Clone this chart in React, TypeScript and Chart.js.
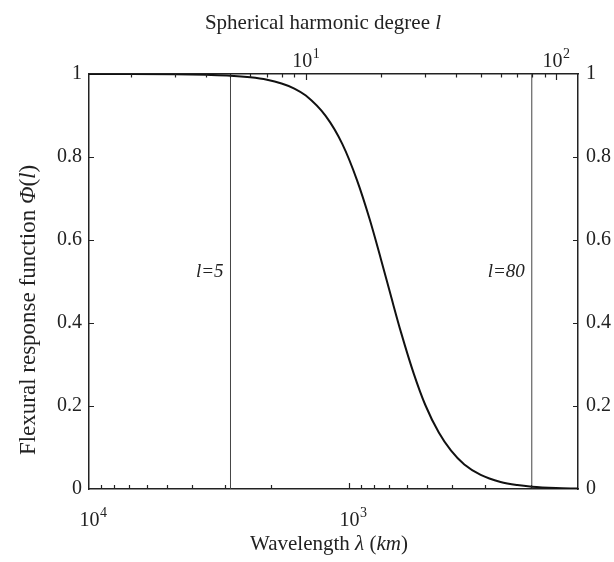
import React, { useEffect, useRef } from "react";
import { Chart, registerables } from "chart.js";

Chart.register(...registerables);

// Spherical harmonic degree l (top axis) and flexural response Φ(l)
const degrees = [1.36, 2, 3, 4, 5, 6, 7, 8, 9, 10, 12, 14, 16, 18, 20, 22, 24, 27, 30, 34, 38, 43, 50, 60, 70, 80, 100, 122.4];
const phi = [1.0, 1.0, 0.9995, 0.998, 0.996, 0.992, 0.986, 0.977, 0.965, 0.948, 0.899, 0.831, 0.745, 0.65, 0.552, 0.46, 0.378, 0.278, 0.203, 0.136, 0.093, 0.059, 0.034, 0.017, 0.0094, 0.0056, 0.0024, 0.0011];

// vertical marker lines at degrees
const markerDegrees = [5, 80];
const markerLabels = ["l=5", "l=80"];

// axis ranges
const degreeRange = [1.36, 122.4];
const wavelengthRange = [131.5, 10000];

// labelled ticks
const degreeTickLabels = [10, 100];
const wavelengthTickLabels = [1000, 10000];
const phiTicks = [0, 0.2, 0.4, 0.6, 0.8, 1];

const FONT = "'Liberation Serif', 'Times New Roman', serif";
const INK = "#222";

type Seg = [string, boolean];

function drawSegs(ctx: CanvasRenderingContext2D, segs: Seg[], size: number, cx: number, y: number) {
  let total = 0;
  for (const [t, it] of segs) {
    ctx.font = `${it ? "italic " : ""}${size}px ${FONT}`;
    total += ctx.measureText(t).width;
  }
  let x = cx - total / 2;
  for (const [t, it] of segs) {
    ctx.font = `${it ? "italic " : ""}${size}px ${FONT}`;
    ctx.fillText(t, x, y);
    x += ctx.measureText(t).width;
  }
}

function logTicks(min: number, max: number) {
  const out: { v: number; major: boolean }[] = [];
  for (let e = Math.floor(Math.log10(min)); e <= Math.ceil(Math.log10(max)); e++) {
    for (let m = 1; m <= 9; m++) {
      const v = m * Math.pow(10, e);
      if (v >= min * 1.0001 && v <= max / 1.0001) out.push({ v, major: m === 1 });
    }
  }
  return out;
}

const decoPlugin = {
  id: "deco",
  afterDraw(chart: any) {
    const ctx: CanvasRenderingContext2D = chart.ctx;
    const { left, right, top, bottom } = chart.chartArea;
    const sx = chart.scales.x;
    const sx2 = chart.scales.x2;
    const sy = chart.scales.y;
    ctx.save();
    ctx.strokeStyle = INK;
    ctx.lineWidth = 1.2;
    // top ticks (degree)
    for (const t of logTicks(degreeRange[0], degreeRange[1])) {
      const px = Math.round(sx2.getPixelForValue(t.v)) + 0.5;
      const len = t.major ? 6 : 3.5;
      ctx.beginPath();
      ctx.moveTo(px, top);
      ctx.lineTo(px, top + len);
      ctx.stroke();
    }
    // bottom ticks (wavelength)
    for (const t of logTicks(wavelengthRange[0], wavelengthRange[1])) {
      const px = Math.round(sx.getPixelForValue(t.v)) + 0.5;
      const len = t.major ? 6 : 4;
      ctx.beginPath();
      ctx.moveTo(px, bottom);
      ctx.lineTo(px, bottom - len);
      ctx.stroke();
    }
    // y ticks both sides
    for (const v of phiTicks) {
      if (v === 0 || v === 1) continue;
      const py = Math.round(sy.getPixelForValue(v)) + 0.5;
      ctx.beginPath();
      ctx.moveTo(left, py);
      ctx.lineTo(left + 5, py);
      ctx.moveTo(right, py);
      ctx.lineTo(right - 5, py);
      ctx.stroke();
    }

    ctx.fillStyle = INK;
    ctx.textBaseline = "alphabetic";
    ctx.textAlign = "left";
    const drawPow = (px: number, base: number, value: number) => {
      const exp = String(Math.round(Math.log10(value)));
      ctx.font = `20px ${FONT}`;
      const w1 = ctx.measureText("10").width;
      ctx.font = `14px ${FONT}`;
      const w2 = ctx.measureText(exp).width;
      const x0 = px - (w1 + w2) / 2;
      ctx.font = `20px ${FONT}`;
      ctx.fillText("10", x0, base);
      ctx.font = `14px ${FONT}`;
      ctx.fillText(exp, x0 + w1 + 0.5, base - 9);
    };
    for (const v of degreeTickLabels) drawPow(sx2.getPixelForValue(v), 67, v);
    for (const v of wavelengthTickLabels) drawPow(sx.getPixelForValue(v) + 4, 526, v);

    // axis titles
    drawSegs(ctx, [["Spherical harmonic degree ", false], ["l", true]], 21, 323, 29);
    drawSegs(ctx, [["Wavelength ", false], ["λ", true], [" (", false], ["km", true], [")", false]], 21, 329, 550);
    ctx.save();
    ctx.translate(35, 310);
    ctx.rotate(-Math.PI / 2);
    drawSegs(ctx, [["Flexural response function ", false], ["Φ", true], ["(", false], ["l", true], [")", false]], 23, 0, 0);
    ctx.restore();

    // marker labels
    ctx.textAlign = "right";
    ctx.textBaseline = "middle";
    ctx.font = `italic 19px ${FONT}`;
    markerDegrees.forEach((l, i) => {
      ctx.fillText(markerLabels[i], sx2.getPixelForValue(l) - 7, sy.getPixelForValue(0.523));
    });
    ctx.restore();
  },
};

export default function App() {
  const ref = useRef<HTMLCanvasElement | null>(null);
  useEffect(() => {
    if (!ref.current) return;
    const datasets: any[] = [
      {
        data: degrees.map((l, i) => ({ x: l, y: phi[i] })),
        xAxisID: "x2",
        yAxisID: "y",
        showLine: true,
        borderColor: "#111",
        borderWidth: 2,
        pointRadius: 0,
        cubicInterpolationMode: "monotone",
      },
      ...markerDegrees.map((l) => ({
        data: [
          { x: l, y: 0 },
          { x: l, y: 1 },
        ],
        xAxisID: "x2",
        yAxisID: "y",
        showLine: true,
        borderColor: "#444",
        borderWidth: 1,
        pointRadius: 0,
      })),
    ];
    const noGrid = { display: false };
    const border = { display: true, color: INK, width: 1.5 };
    const chart = new Chart(ref.current, {
      type: "scatter",
      data: { datasets },
      plugins: [decoPlugin],
      options: {
        animation: false,
        responsive: false,
        devicePixelRatio: 1,
        layout: { padding: 0 },
        plugins: { legend: { display: false }, tooltip: { enabled: false } },
        font: { family: FONT },
        scales: {
          x: {
            type: "logarithmic",
            position: "bottom",
            reverse: true,
            min: wavelengthRange[0],
            max: wavelengthRange[1],
            grid: noGrid,
            border,
            ticks: { display: false },
            afterFit: (s: any) => {
              s.height = 73;
            },
          },
          x2: {
            type: "logarithmic",
            position: "top",
            min: degreeRange[0],
            max: degreeRange[1],
            grid: noGrid,
            border,
            ticks: { display: false },
            afterFit: (s: any) => {
              s.height = 74;
            },
          },
          y: {
            type: "linear",
            position: "left",
            min: 0,
            max: 1,
            grid: { display: false, drawTicks: false },
            border,
            ticks: {
              stepSize: 0.2,
              padding: 7,
              color: INK,
              font: { family: FONT, size: 20 },
              callback: (v: any) => String(Math.round(Number(v) * 10) / 10),
            },
            afterFit: (s: any) => {
              s.width = 89;
            },
          },
          y2: {
            type: "linear",
            position: "right",
            min: 0,
            max: 1,
            grid: { display: false, drawTicks: false },
            border,
            ticks: {
              stepSize: 0.2,
              padding: 8,
              color: INK,
              font: { family: FONT, size: 20 },
              callback: (v: any) => String(Math.round(Number(v) * 10) / 10),
            },
            afterFit: (s: any) => {
              s.width = 36;
            },
          },
        },
      } as any,
    });
    return () => chart.destroy();
  }, []);
  return (
    <div style={{ position: "absolute", left: 0, top: 0, width: 614, height: 562, background: "#fff" }}>
      <canvas ref={ref} width={614} height={562} style={{ display: "block" }} />
    </div>
  );
}
